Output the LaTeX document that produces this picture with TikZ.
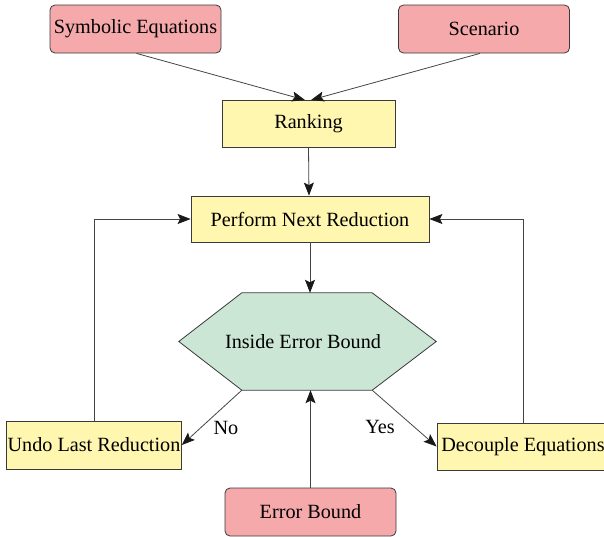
\documentclass[tikz,border=0pt]{standalone}
\usepackage{fontspec}
\setmainfont{Liberation Serif}
\usetikzlibrary{arrows.meta,calc}
\definecolor{pinkfill}{HTML}{F5A9AB}
\definecolor{yellowfill}{HTML}{FFF6B0}
\definecolor{greenfill}{HTML}{CBE6D4}
\definecolor{edgecol}{HTML}{3A3A3A}
\definecolor{linecol}{HTML}{444444}
\tikzset{
  every node/.style={font=\rmfamily\fontsize{20.2}{24}\selectfont, text=black},
  pinkbox/.style={draw=edgecol, line width=0.8pt, fill=pinkfill, rounded corners=5pt, minimum width=171pt, minimum height=48pt, inner sep=1pt},
  yellowbox/.style={draw=edgecol, line width=0.8pt, fill=yellowfill, minimum height=47pt, inner sep=1pt},
  conn/.style={draw=linecol, line width=0.8pt, -{Stealth[length=13pt,width=10pt,inset=2.5pt,color=black!90]}},
  plain/.style={draw=edgecol, line width=0.8pt},
  lbl/.style={inner sep=1pt}
}
\begin{document}
\begin{tikzpicture}[x=1pt,y=-1pt]
\useasboundingbox (0,0) rectangle (604,536);
\node[pinkbox] (sym) at (135.5,29) {Symbolic Equations};
\node[pinkbox] (scen) at (484,29) {Scenario};
\node[yellowbox, minimum width=173pt] (rank) at (308.5,123.5) {Ranking};
\node[yellowbox, minimum width=238pt, minimum height=46pt] (perf) at (310,219) {Perform Next Reduction};
\node[minimum width=257pt, minimum height=97pt, inner sep=0pt] (hex) at (307.5,341.5) {};
\draw[plain, fill=greenfill] (hex.west) -- ($(hex.north west)+(63,0)$) coordinate (hexTL)
  -- ($(hex.north east)+(-64,0)$) coordinate (hexTR) -- (hex.east)
  -- ($(hex.south east)+(-64,0)$) coordinate (hexBR)
  -- ($(hex.south west)+(63,0)$) coordinate (hexBL) -- cycle;
\node (hextext) at (303,342) {Inside Error Bound};
\node[yellowbox, minimum width=172pt, minimum height=48pt] (undo) at (94,445) {Undo Last Reduction};
\node[yellowbox, minimum width=172pt] (dec) at (523,446.5) {Decouple Equations};
\node[pinkbox] (err) at (310.5,512) {Error Bound};
\coordinate (r1) at (305,100);
\coordinate (r2) at (311,100);
\draw[conn] ($(sym.south)+(1,0)$) -- (r1);
\draw[conn] ($(scen.south)+(-4,0)$) -- (r2);
\draw[conn] (rank.south) -- ($(perf.north)+(-1,0)$);
\draw[conn] (perf.south) -- (perf.south |- hex.north);
\draw[conn] (undo.north) |- (perf.west);
\draw[conn] (dec.north) |- (perf.east);
\draw[conn] (hexBL) -- (undo.east);
\draw[conn] (hexBR) -- (dec.west);
\draw[conn] (err.north) -- (err.north |- hex.south);
\node[lbl] (no) at (226,428) {No};
\node[lbl] (yes) at (380,427) {Yes};
\end{tikzpicture}
\end{document}
